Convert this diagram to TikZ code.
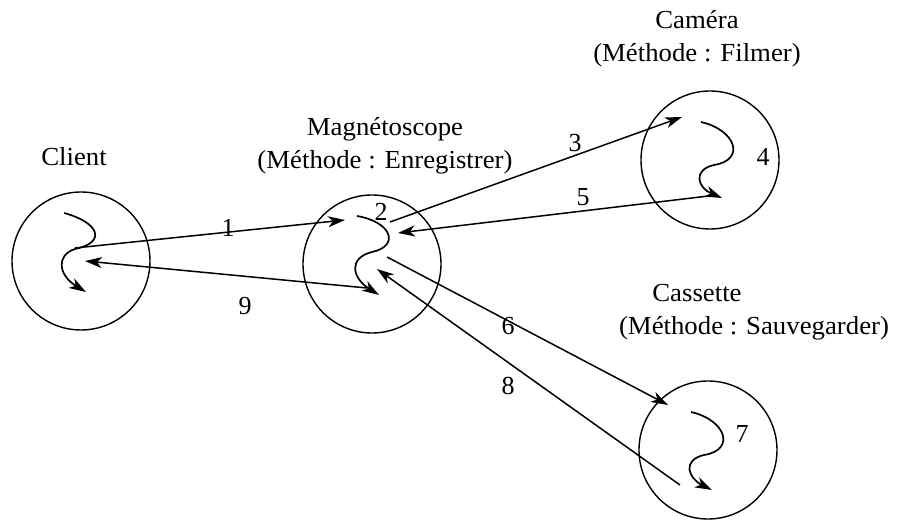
\documentclass[tikz,border=0pt]{standalone}
\usepackage{fontspec}
\setmainfont{Liberation Serif}
\usetikzlibrary{arrows.meta}
\begin{document}
\begin{tikzpicture}[x=1pt,y=-1pt,
  obj/.style={draw,circle,line width=1.4pt,minimum size=138pt,inner sep=0pt},
  lbl/.style={font=\fontsize{26}{28}\selectfont,inner sep=0pt,xscale=1.03},
  num/.style={font=\fontsize{26}{28}\selectfont,inner sep=1pt},
  msg/.style={line width=1.5pt,-{Stealth[length=17pt,width=11pt,inset=5pt]}},
  sq/.style={line width=1.7pt,-{Stealth[length=17pt,width=11pt,inset=5pt]}}]
\useasboundingbox (0,0) rectangle (898,521);
% objects
\node[obj] (client) at (81,261) {};
\node[obj] (magneto) at (372,264) {};
\node[obj] (camera) at (710,160) {};
\node[obj] (cassette) at (708,450) {};
% titles
\node[lbl] (tclient) at (74,157) {Client};
\node[lbl] (tmag1) at (385,129) {Magnétoscope};
\node[lbl] (tmag2) at (385,162) {(Méthode : Enregistrer)};
\node[lbl] (tcam1) at (697,20) {Caméra};
\node[lbl] (tcam2) at (697,55) {(Méthode : Filmer)};
\node[lbl] (tcas1) at (697,293) {Cassette};
\node[lbl] (tcas2) at (754,328) {(Méthode : Sauvegarder)};
% squiggles
\draw[sq] (64,213) .. controls (98,222) and (108,242) .. (75,249)
  .. controls (56,255) and (58,275) .. (86,292);
\draw[sq] (357,216) .. controls (392,222) and (400,246) .. (372,252)
  .. controls (348,258) and (352,278) .. (379,295);
\draw[sq] (701,122) .. controls (736,130) and (746,160) .. (714,165)
  .. controls (692,170) and (698,188) .. (722,198);
\draw[sq] (691,412) .. controls (726,420) and (736,450) .. (704,455)
  .. controls (682,460) and (688,478) .. (712,490);
% anchor points for messages
\coordinate (c1) at (75,248);
\coordinate (c9) at (85,261);
\coordinate (m1) at (345,220);
\coordinate (m9) at (367,288);
\coordinate (m3) at (390,222);
\coordinate (m5) at (398,233);
\coordinate (m6) at (387,257);
\coordinate (m8) at (377,269);
\coordinate (k3) at (682,117);
\coordinate (k5) at (717,195);
\coordinate (s6) at (668,405);
\coordinate (s8) at (680,485);
% messages
\draw[msg] (c1) -- (m1);
\draw[msg] (m9) -- (c9);
\draw[msg] (m3) -- (k3);
\draw[msg] (k5) -- (m5);
\draw[msg] (m6) -- (s6);
\draw[msg] (s8) -- (m8);
% numbers
\node[num] (n1) at (228,228) {1};
\node[num] (n9) at (245,306) {9};
\node[num] (n3) at (575,143) {3};
\node[num] (n5) at (583,197) {5};
\node[num] (n6) at (508,326) {6};
\node[num] (n8) at (508,386) {8};
\node[num] (n2) at (381,212) {2};
\node[num] (n4) at (763,157) {4};
\node[num] (n7) at (742,434) {7};
\end{tikzpicture}
\end{document}
